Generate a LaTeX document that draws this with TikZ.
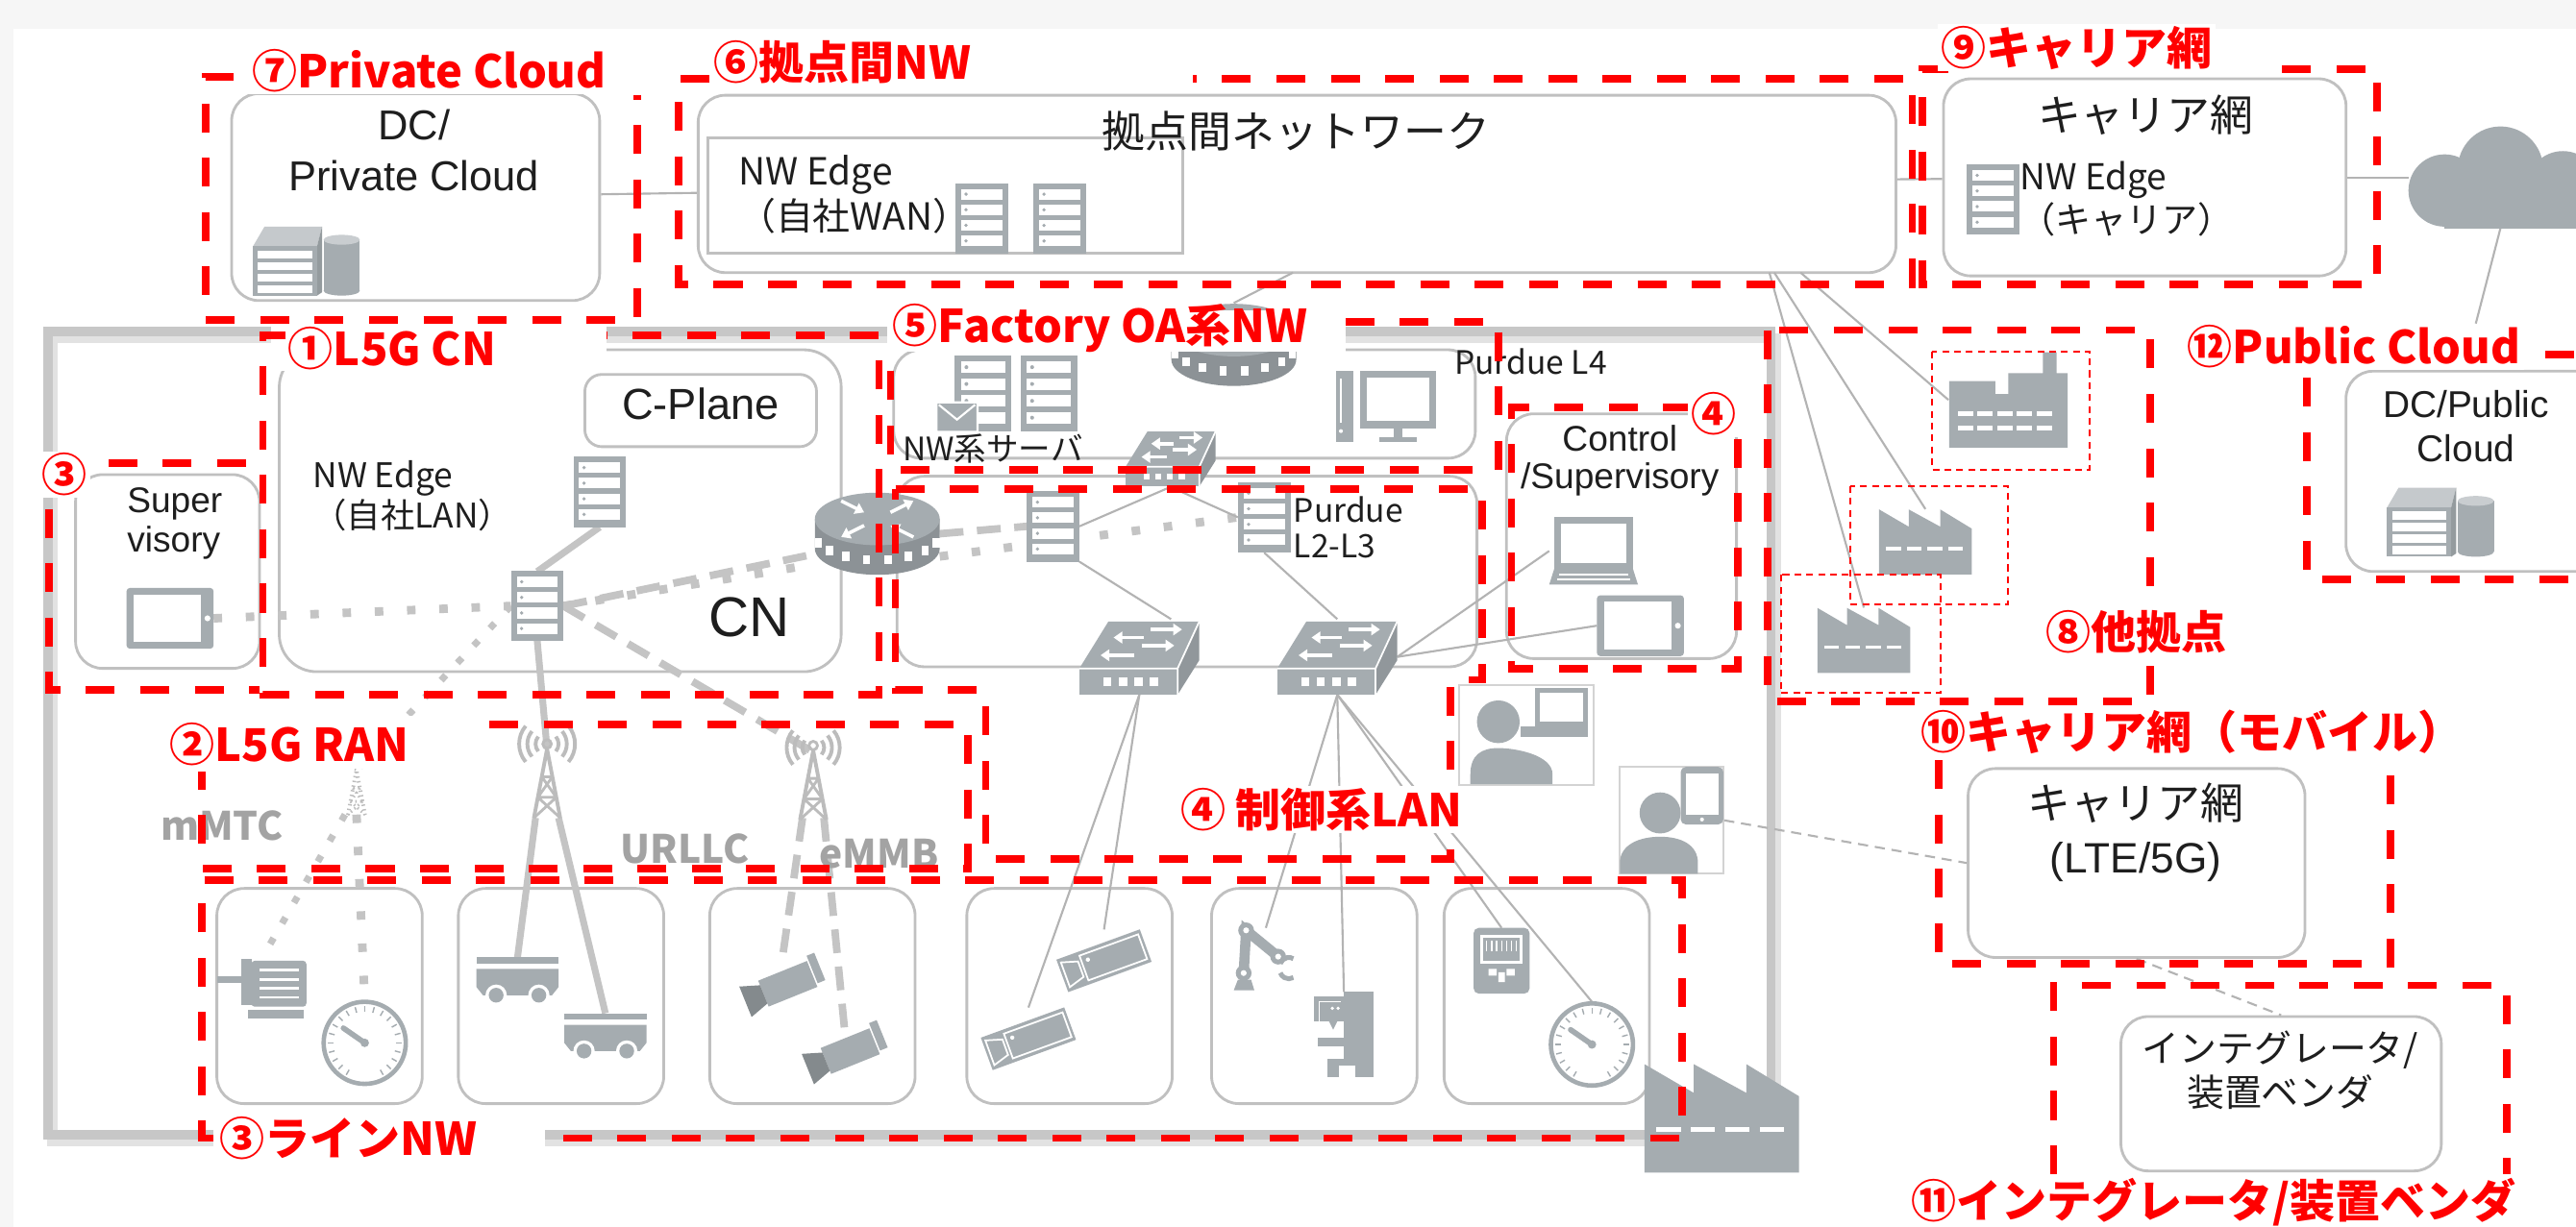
\documentclass[tikz,border=0pt]{standalone}
\usepackage{fontspec}
\setmainfont{Noto Sans CJK JP}
\newfontfamily\latinfont{Liberation Sans}
\usetikzlibrary{arrows.meta}

\definecolor{zonered}{HTML}{FF0000}
\definecolor{icongray}{HTML}{A5ACB0}
\definecolor{boxgray}{HTML}{C0C0C0}
\definecolor{linkgray}{HTML}{B3B3B3}
\definecolor{fatgray}{HTML}{C4C4C4}
\definecolor{antgray}{HTML}{BCBCBC}
\definecolor{framegray}{HTML}{C7C7C7}
\definecolor{shadowgray}{HTML}{E2E2E2}
\definecolor{pagegray}{HTML}{F6F6F6}
\definecolor{inkblack}{HTML}{1E1E1E}
\definecolor{ranlabel}{HTML}{A3A3A3}

\tikzset{
  gbox/.style={draw=boxgray, line width=0.8pt, fill=white, rounded corners=8pt, inner sep=0pt},
  edgebox/.style={draw=boxgray, line width=0.8pt, inner sep=0pt},
  personbox/.style={draw=boxgray!70, line width=0.5pt, fill=white, inner sep=0pt},
  ic/.style 2 args={inner sep=0pt, outer sep=0pt, minimum width=#1, minimum height=#2},
  link/.style={draw=linkgray, line width=0.6pt},
  dashlink/.style={link, dash pattern=on 3pt off 2pt},
  fatline/.style={draw=fatgray, line width=2pt},
  fatdash/.style={fatline, line width=2.2pt, dash pattern=on 7pt off 4pt},
  fatdot/.style={fatline, line width=2.5pt, dash pattern=on 2.5pt off 7pt},
  fatdiamond/.style={fatline, line width=2pt, dash pattern=on 2pt off 5pt},
  zone/.style={draw=zonered, line width=2.2pt, dash pattern=on 8.5pt off 7.5pt},
  facbox/.style={draw=zonered, line width=0.6pt, dash pattern=on 2pt off 1.5pt},
  zonelbl/.style={text=zonered, font=\bfseries\fontsize{13.3}{16}\selectfont, fill=white, inner xsep=1pt, inner ysep=0.5pt, anchor=west},
  txt/.style={text=inkblack, inner sep=0pt},
  ran/.style={text=ranlabel, font=\bfseries\fontsize{11.5}{13}\selectfont, inner sep=0pt},
  whitearrow/.style={white, line width=1pt, -{Triangle[length=2.6pt,width=3.4pt]}},
  % icons, drawn in picture units (y grows downwards)
  server/.pic={
    \fill[icongray] (-16,-21.5) rectangle (16,21.5);
    \foreach \k in {0,...,3}{
      \fill[white] (-12.5,{-18+9.5*\k}) rectangle (12.5,{-11.5+9.5*\k});
      \fill[icongray] (-9.5,{-14.75+9.5*\k}) circle (1.1);
    }
  },
  dbserver/.pic={
    \fill[icongray!65] (-32,-12) -- (-25,-24) -- (10,-24) -- (7,-12) -- cycle;
    \fill[icongray!90!black] (7,-12) -- (10,-24) -- (10,16) -- (7,18) -- cycle;
    \fill[icongray] (-32,-12) rectangle (7,18);
    \foreach \k in {0,...,3}
      \fill[white] (-29,{-9.5+7*\k}) rectangle (4,{-4.5+7*\k});
    \fill[icongray] (11,-16) rectangle (33,15);
    \fill[icongray] (22,15) ellipse (11 and 3);
    \fill[icongray!60] (22,-16) ellipse (11 and 3);
  },
  cloud/.pic={
    \fill[icongray] (-34,8) circle (22);
    \fill[icongray] (0,-5) circle (26);
    \fill[icongray] (38,6) circle (22);
    \fill[icongray] (-34,8) rectangle (50,31);
  },
  router/.pic={
    \fill[icongray!85!black] (-38,-9) -- (-38,9) arc (180:0:38 and 16) -- (38,-9) -- cycle;
    \fill[icongray] (0,-9) ellipse (38 and 16);
    \foreach \a in {160,140,...,20}
      \fill[white] ({38*cos(\a)-2.2},{16*sin(\a)-2.75}) rectangle +(4.4,5.5);
    \draw[whitearrow] (-22,-20) -- (-8,-13);
    \draw[whitearrow] (22,2) -- (8,-5);
    \draw[whitearrow] (8,-13) -- (22,-20);
    \draw[whitearrow] (-8,-5) -- (-22,2);
  },
  switch/.pic={
    \fill[icongray] (-36.5,7) -- (-18.8,-21.6) -- (36.5,-21.6) -- (23.3,7) -- cycle;
    \fill[icongray] (-36.5,7) rectangle (23.3,23);
    \fill[icongray!88!black] (23.3,7) -- (36.5,-21.6) -- (36.5,2) -- (23.3,23) -- cycle;
    \draw[white, line width=0.5pt] (-36.5,7) -- (23.3,7) -- (36.5,-21.6) (23.3,7) -- (23.3,23);
    \foreach \i in {0,...,3}
      \fill[white] ({-22+9.5*\i},12.5) rectangle +(5,5);
    \draw[whitearrow] (7,-16.7) -- (26,-16.7);
    \draw[whitearrow] (2.8,-11.8) -- (-15.7,-11.8);
    \draw[whitearrow] (1.8,-6.9) -- (21.3,-6.9);
    \draw[whitearrow] (-3.1,-1) -- (-23.6,-1);
  },
  pc/.pic={
    \fill[icongray] (-30.5,-21.5) rectangle (-19.5,21.5);
    \fill[white] (-28,-17) rectangle (-26.5,10);
    \fill[white] (-27.3,15) circle (1.2);
    \fill[icongray] (-15.5,-21.5) rectangle (30.5,13.5);
    \fill[white] (-11.5,-17.5) rectangle (26.5,8.5);
    \fill[icongray] (5,13.5) rectangle (10,18.5);
    \fill[icongray] (-4,18.5) rectangle (19,21.5);
  },
  laptop/.pic={
    \fill[icongray] (-24,-20.5) rectangle (24,11);
    \fill[white] (-20,-16.5) rectangle (20,7.5);
    \fill[icongray] (-24,11) -- (24,11) -- (27,20.5) -- (-27,20.5) -- cycle;
    \draw[white, line width=0.5pt] (-21,14.5) -- (21,14.5) (-22,17.5) -- (22,17.5);
  },
  tablet/.pic={
    \fill[icongray, rounded corners=1pt] (-26.5,-18.5) rectangle (26.5,18.5);
    \fill[white] (-22,-14.5) rectangle (19,14.5);
    \fill[white] (22.8,0) circle (1.8);
  },
  mail/.pic={
    \fill[icongray] (-12.5,-9) rectangle (12.5,9);
    \draw[white, line width=0.6pt] (-12.5,-9) rectangle (12.5,9) (-11,-7.5) -- (0,1.5) -- (11,-7.5);
  },
  personlap/.pic={
    \fill[icongray] (5.5,-28.7) rectangle (37.4,-5.2);
    \fill[white] (8.5,-25.7) rectangle (34.4,-8.2);
    \fill[icongray] (-3.3,-5.2) rectangle (37.4,1.5);
    \fill[icongray] (-17,-8) circle (13);
    \fill[icongray] (-34,30) -- (-34,24) .. controls (-34,12) and (-27,8) .. (-17,8)
      .. controls (-7,8) and (16,12) .. (16,24) -- (16,30) -- cycle;
  },
  personphone/.pic={
    \fill[icongray, rounded corners=1.5pt] (5.5,-32.5) rectangle (31.5,2.5);
    \fill[white] (8.5,-28.5) rectangle (28.5,-3.5);
    \fill[white] (18.5,-0.5) circle (1.2);
    \fill[icongray] (-7,-4.5) circle (12.5);
    \fill[icongray] (-31.5,32.5) -- (-31.5,26) .. controls (-31.5,15) and (-20,10) .. (-7,10)
      .. controls (6,10) and (16,15) .. (16,26) -- (16,32.5) -- cycle;
  },
  facsaw/.pic={
    \fill[icongray] (-47,33) -- (-47,-33) -- (-17,-15.5) -- (-17,-33) -- (15,-15.5)
      -- (15,-33) -- (47,-13.5) -- (47,33) -- cycle;
    \foreach \x in {-40,-19,2,23}
      \fill[white] (\x,5) rectangle +(15,3.5);
  },
  facchim/.pic={
    \fill[icongray] (-36,29) -- (-36,-11.5) -- (-8,-11.5) -- (-8,-3.6) -- (0,-3.6)
      -- (0,-16.3) -- (21,-16.3) -- (21,-29) -- (29.4,-29) -- (29.4,-16.3)
      -- (36,-16.3) -- (36,29) -- cycle;
    \foreach \y in {7,15.4}
      \foreach \x in {-31,-19,-7,5,17}
        \fill[white] (\x,\y) rectangle +(9.5,3);
  },
  tower/.pic={
    \draw[line width=1.1pt, line join=round] (-8,21) -- (0,-21) -- (8,21);
    \draw[line width=0.8pt] (-5.6,8.5) -- (5.6,8.5) (-3.2,-4) -- (3.2,-4)
      (-3.2,-4) -- (5.6,8.5) (3.2,-4) -- (-5.6,8.5)
      (-5.6,8.5) -- (8,21) (5.6,8.5) -- (-8,21);
    \draw[line width=0.8pt] (0,-24) circle (2.6);
  },
  antenna/.pic={
    \pic {tower};
    \foreach \r in {7,12,17}{
      \draw[line width=1.1pt] (0,-24) ++(-40:\r) arc (-40:40:\r);
      \draw[line width=1.1pt] (0,-24) ++(140:\r) arc (140:220:\r);
    }
  },
  motor/.pic={
    \fill[icongray] (-27.5,-6.5) rectangle (-12.5,-2.3);
    \fill[icongray] (-13,-17) rectangle (-7,11);
    \fill[icongray, rounded corners=1pt] (-7,-16) rectangle (26.5,12);
    \foreach \y in {-11,-5.5,0,5.5}
      \fill[white] (-2,\y) rectangle (22,{\y+1.6});
    \fill[icongray] (-9,14) rectangle (25,19);
  },
  gauge/.pic={
    \draw[icongray, line width=1.3pt] (0,0) circle (25);
    \foreach \a in {120,135,...,420}
      \draw[icongray, line width=0.4pt] (\a:19) -- (\a:22.5);
    \draw[icongray, line width=1.6pt, line cap=round] (0,0) -- (-13,-9);
    \fill[icongray] (0,0) circle (2.6);
  },
  agv/.pic={
    \fill[icongray] (-25,-15) rectangle (25,-11);
    \fill[icongray] (-25,-8) -- (25,-8) -- (25,3) -- (21,8) -- (-21,8) -- (-25,3) -- cycle;
    \foreach \x in {-13,13}{
      \fill[white] (\x,8) circle (6.5);
      \fill[icongray] (\x,8) circle (4.5);
    }
  },
  cctv/.pic={
    \fill[icongray] (-12,-9) rectangle (20,8);
    \fill[icongray!80!black] (-12,-6) -- (-24,-10) -- (-24,10) -- (-12,6) -- cycle;
    \fill[icongray] (21,-12) rectangle (26,6);
  },
  vcam/.pic={
    \fill[icongray] (-27,-10.5) rectangle (27,10.5);
    \draw[white, line width=0.5pt] (-13,-8) rectangle (25,8);
    \draw[white, line width=0.5pt] (-25,-8) -- (-15,-5) -- (-15,5) -- (-25,8) -- cycle;
    \fill[white] (-9,-4) circle (1.3);
  },
  robot/.pic={
    \fill[icongray] (-19.5,18.5) -- (-17,12) -- (-9,12) -- (-7,18.5) -- cycle;
    \draw[icongray, line width=3pt] (-13.5,8) -- (-12,-18) -- (7.5,-2);
    \foreach \p in {(-13.5,8),(-12,-18),(7.5,-2)}{
      \fill[icongray] \p circle (4.8);
      \fill[white] \p circle (1.8);
    }
    \draw[icongray, line width=1.4pt] (14,4) ++(200:5.5) arc (200:300:5.5);
    \draw[icongray, line width=1.4pt] (14,6) ++(60:5.5) arc (60:160:5.5);
  },
  press/.pic={
    \fill[icongray] (0,-26) rectangle (18,26);
    \fill[icongray] (-18,-23) rectangle (0,-8);
    \draw[white, line width=0.5pt] (-15,-8) -- (-15,-20) -- (-2,-20);
    \fill[white] (-7,-16) circle (1.1) (-3.5,-16) circle (1.1);
    \fill[icongray] (-9,-8) -- (-4,-8) -- (-6.5,-3) -- cycle;
    \fill[icongray] (-16,2) rectangle (0,7);
    \fill[icongray] (-10,15) rectangle (18,26);
    \fill[white] (-3,19) rectangle (7,26);
  },
  hmi/.pic={
    \fill[icongray, rounded corners=1.5pt] (-17,-20) rectangle (17,20);
    \fill[white] (-13,-16) rectangle (13,2);
    \fill[icongray] (-11,-14) rectangle (11,0);
    \foreach \x in {-9,-6,...,9}
      \draw[white, line width=0.35pt] (\x,-12) -- (\x,-6);
    \fill[white] (-8,5) rectangle (-3,9) (3,5) rectangle (8,9) (-2,7) rectangle (2,13);
  },
}

\begin{document}
\begin{tikzpicture}[x=0.017cm, y=-0.017cm]
\useasboundingbox (0,0) rectangle (1568,747);
\clip (0,0) rectangle (1568,747);

% page
\fill[pagegray] (0,0) rectangle (1568,747);
\fill[white] (8,17.5) rectangle (1568,747);

% factory frame
\draw[shadowgray, line width=3pt] (32,206) rectangle (1081,695);
\draw[framegray, line width=2.8pt] (29,202) rectangle (1078,691);

% gray boxes
\node[gbox, minimum width=3.808cm, minimum height=2.142cm] (pcloud) at (253,120) {};
\node[gbox, minimum width=12.393cm, minimum height=1.836cm] (wan) at (789.5,112) {};
\node[edgebox, minimum width=4.913cm, minimum height=1.19cm] (wanedge) at (575.5,119) {};
\node[gbox, minimum width=4.165cm, minimum height=2.04cm] (carrier) at (1305.5,108) {};
\node[gbox, minimum width=2.754cm, minimum height=2.074cm] (pubcloud) at (1509,287) {};
\node[gbox, minimum width=1.904cm, minimum height=2.006cm] (super) at (102,348) {};
\node[gbox, rounded corners=11pt, minimum width=5.814cm, minimum height=3.332cm] (cn) at (341,311) {};
\node[gbox, rounded corners=5pt, minimum width=2.397cm, minimum height=0.748cm] (cplane) at (426.5,250) {};
\node[gbox, minimum width=6.018cm, minimum height=1.122cm] (oa) at (721,246) {};
\node[gbox, minimum width=6.001cm, minimum height=1.972cm] (lan) at (722.5,348) {};
\node[gbox, minimum width=2.38cm, minimum height=2.533cm] (ctrl) at (987,326.5) {};
\foreach \n/\x in {1/194.5,2/341.5,3/494.5,4/651,5/800,6/941.5}
  \node[gbox, minimum width=2.125cm, minimum height=2.227cm] (line\n) at (\x,606.5) {};
\node[gbox, minimum width=3.485cm, minimum height=1.955cm] (mobile) at (1300.5,525.5) {};
\node[gbox, minimum width=3.315cm, minimum height=1.598cm] (integ) at (1388.5,666) {};
\node[personbox, minimum width=1.394cm, minimum height=1.037cm] (op1) at (929,447.5) {};
\node[personbox, minimum width=1.071cm, minimum height=1.105cm] (op2) at (1017.5,499.5) {};

% icon places
\node[ic={1.904cm}{1.054cm}] (cloudn) at (1522,108) {};
\node[ic={0.544cm}{0.714cm}] (upf) at (327,369) {};
\node[ic={0.544cm}{0.731cm}] (cpsrv) at (365,299.5) {};
\node[ic={0.544cm}{0.731cm}] (srvL) at (641,320.5) {};
\node[ic={0.544cm}{0.731cm}] (srvR) at (769.5,315) {};
\node[ic={0.901cm}{0.629cm}] (tabS) at (103.5,376.5) {};
\node[ic={1.292cm}{0.867cm}] (rtr1) at (534,325) {};
\node[ic={1.292cm}{0.867cm}] (rtr2) at (751,210) {};
\node[ic={0.935cm}{0.595cm}] (tsw) at (712.5,279) {};
\node[ic={1.241cm}{0.782cm}] (swA) at (693.5,400) {};
\node[ic={1.241cm}{0.782cm}] (swB) at (814,400) {};
\node[ic={0.918cm}{0.697cm}] (lap) at (970,335.5) {};
\node[ic={0.901cm}{0.629cm}] (tabC) at (998.5,381) {};
\node[ic={0.238cm}{0.459cm}] (ant1) at (217,482.5) {};
\node[ic={0.238cm}{0.714cm}] (ant2) at (333,477) {};
\node[ic={0.221cm}{0.68cm}] (ant3) at (495,478) {};
\node[ic={0.935cm}{0.629cm}] (motor) at (160,601) {};
\node[ic={0.884cm}{0.884cm}] (gauge1) at (222,635) {};
\node[ic={0.85cm}{0.51cm}] (agv1) at (315,598) {};
\node[ic={0.85cm}{0.51cm}] (agv2) at (368.5,632) {};
\node[ic={0.867cm}{0.544cm}] (cam1) at (476,601) {};
\node[ic={0.867cm}{0.544cm}] (cam2) at (514,642) {};
\node[ic={0.986cm}{0.646cm}] (cam4a) at (672,585) {};
\node[ic={0.986cm}{0.646cm}] (cam4b) at (626,632.5) {};
\node[ic={0.663cm}{0.663cm}] (robot) at (770.5,584.5) {};
\node[ic={0.612cm}{0.884cm}] (press) at (818,630) {};
\node[ic={0.578cm}{0.68cm}] (hmi) at (914,585) {};
\node[ic={0.884cm}{0.884cm}] (gauge6) at (969,636) {};
\node[ic={1.241cm}{0.969cm}] (fac1) at (1222.5,243.5) {};
\node[ic={0.952cm}{0.68cm}] (fac2) at (1172,330) {};
\node[ic={0.952cm}{0.68cm}] (fac3) at (1134.5,390) {};

\coordinate (wanf1) at (1096,166);
\coordinate (wanf2) at (1080,166);
\coordinate (wanf3) at (1077,166);
\coordinate (wanr) at (787,166);
\coordinate (pubtop) at (1507,197);

% links between sites
\draw[link] (pcloud) -- (wan);
\draw[link] (wan) -- (carrier);
\draw[link] (carrier) -- (cloudn);
\draw[link] (cloudn.south) -- (pubtop);
\draw[link] (wanf1) -- (fac1.west);
\draw[link] (wanf2) -- (fac2.north);
\draw[link] (wanf3) -- (fac3.north);
\draw[link] (wanr) -- (rtr2.north);

% local 5G
\draw[fatline] (cpsrv.south) -- (upf.north);
\draw[fatline] (upf.south) -- (ant2.north);
\draw[fatline] (ant2.south west) -- (agv1.north);
\draw[fatline] (ant2.south east) -- (agv2.north);
\draw[fatdash] (upf.east) -- (ant3.north);
\draw[fatdash] (ant3.south west) -- (cam1.north);
\draw[fatdash] (ant3.south east) -- (cam2.north);
\draw[fatdiamond] (upf.west) -- (ant1.north);
\draw[fatdiamond] (ant1.south west) -- (motor.north);
\draw[fatdot] (ant1.south) -- (gauge1.north);
\draw[fatdot] (tabS.east) -- (upf.west);
\draw[fatdash] (upf.east) -- (rtr1.198);
\draw[fatdot] (upf.east) -- (rtr1.206);
\draw[fatdash] (rtr1.east) -- (srvL.west);
\draw[fatdot] (rtr1.340) -- (srvR.west);

% control LAN
\draw[link] (tsw.south) -- (srvL.east);
\draw[link] (tsw.south) -- (srvR.west);
\draw[link] (srvL.south east) -- (swA.50);
\draw[link] (srvR.south) -- (swB.north);
\draw[link] (swB.east) -- (lap.west);
\draw[link] (swB.east) -- (tabC.west);
\draw[link] (swA.south) -- (cam4a.north);
\draw[link] (swA.south) -- (cam4b.north);
\foreach \d in {robot,press,hmi,gauge6}
  \draw[link] (swB.south) -- (\d.north);
\draw[dashlink] (op2.east) -- (mobile.west);
\draw[dashlink] (mobile.south) -- (integ.north);

% icons
\pic at (186,162) {dbserver};
\pic at (597.5,133) {server};
\pic at (645,133) {server};
\pic at (1213,121.5) {server};
\pic at (cloudn) {cloud};
\pic at (1485,321) {dbserver};
\pic at (tabS) {tablet};
\pic at (cpsrv) {server};
\pic at (upf) {server};
\pic at (rtr1) {router};
\pic at (rtr2) {router};
\pic[scale=1.08] at (598.5,239.5) {server};
\pic[scale=1.08] at (638.5,239.5) {server};
\pic at (582.5,254) {mail};
\pic at (843.5,247.5) {pc};
\pic[scale=0.75] at (tsw) {switch};
\pic at (srvL) {server};
\pic at (srvR) {server};
\pic at (swA) {switch};
\pic at (swB) {switch};
\pic at (lap) {laptop};
\pic at (tabC) {tablet};
\pic[color=antgray, densely dotted, scale=0.65] at (ant1) {tower};
\pic[color=antgray] at (ant2) {antenna};
\pic[color=antgray, scale=0.95] at (ant3) {antenna};
\pic at (motor) {motor};
\pic at (gauge1) {gauge};
\pic at (agv1) {agv};
\pic at (agv2) {agv};
\pic[rotate=22] at (cam1) {cctv};
\pic[rotate=22] at (cam2) {cctv};
\pic[rotate=20] at (cam4a) {vcam};
\pic[rotate=20] at (cam4b) {vcam};
\pic at (robot) {robot};
\pic at (press) {press};
\pic at (hmi) {hmi};
\pic at (gauge6) {gauge};
\pic at (op1) {personlap};
\pic at (op2) {personphone};
\pic at (fac1) {facchim};
\pic[scale=0.6] at (fac2) {facsaw};
\pic[scale=0.6] at (fac3) {facsaw};
\pic at (1048,681) {facsaw};

% texts
\node[txt, font=\latinfont\fontsize{12.3}{15}\selectfont, align=center] (pctext) at (252,91.5) {DC/\\Private Cloud};
\node[txt, font=\fontsize{12.7}{15}\selectfont] (wantitle) at (789,80) {拠点間ネットワーク};
\node[txt, font=\fontsize{11}{12}\selectfont, align=left, anchor=west] (wanedgetext) at (449,118.5) {NW Edge\\（自社WAN）};
\node[txt, font=\fontsize{12.7}{15}\selectfont] (cartitle) at (1306,70) {キャリア網};
\node[txt, font=\fontsize{10.5}{11.6}\selectfont, align=left, anchor=west] (caredge) at (1229,121) {NW Edge\\（キャリア）};
\node[txt, font=\latinfont\fontsize{11}{13}\selectfont, align=center] (pubtext) at (1501,259.5) {DC/Public\\Cloud};
\node[txt, font=\latinfont\fontsize{10.5}{11.6}\selectfont, align=left, anchor=west] (supertext) at (77,319) {Super\\visory};
\node[txt, font=\fontsize{10}{10}\selectfont, align=left, anchor=west] (cnedge) at (190,302) {NW Edge\\（自社LAN）};
\node[txt, font=\latinfont\fontsize{12.8}{15}\selectfont] (cptext) at (426.5,246) {C-Plane};
\node[txt, font=\latinfont\fontsize{16.5}{18}\selectfont] (cntext) at (456,376) {CN};
\node[txt, font=\fontsize{9.5}{11}\selectfont, anchor=west] (nwsrv) at (549,273) {NW系サーバ};
\node[txt, font=\fontsize{9.5}{11}\selectfont, anchor=west] (l4text) at (885,220) {Purdue L4};
\node[txt, font=\fontsize{9.5}{10.6}\selectfont, align=left, anchor=west] (l23text) at (787,321) {Purdue\\L2-L3};
\node[txt, font=\latinfont\fontsize{10.5}{11.1}\selectfont, align=center] (ctrltext) at (986,280.5) {Control\\/Supervisory};
\node[ran] (mmtc) at (135,503) {mMTC};
\node[ran] (urllc) at (417,517) {URLLC};
\node[ran] (embb) at (535,520) {eMMB};
\node[txt, font=\fontsize{12.7}{15}\selectfont] (mobtitle) at (1300,489) {キャリア網};
\node[txt, font=\latinfont\fontsize{12.5}{15}\selectfont] (mobsub) at (1300,525) {(LTE/5G)};
\node[txt, font=\fontsize{11}{13}\selectfont, align=center] (integtext) at (1388,651.5) {インテグレータ/\\装置ベンダ};

% label backings
\fill[white] (165,198) rectangle (369,226);
\fill[white] (540,189) rectangle (819,214);
\fill[white] (100,436) rectangle (298,468);
\fill[white] (130,681) rectangle (332,706);

% zones
\draw[zone] (142,47) -- (125,47) -- (125,195) -- (388,195) -- (388,58);
\draw[zone] (432,48) -- (413,48) -- (413,173) -- (1164,173) -- (1164,48) -- (726,48);
\draw[zone] (1186,42) -- (1170,42) -- (1170,173) -- (1447,173) -- (1447,42) -- (1389,42);
\draw[zone] (1549,216) -- (1590,216) (1404,230) -- (1404,353) -- (1590,353);
\draw[zone] (1076,201) rectangle (1309,427);
\draw[zone] (174,204) -- (160,204) -- (160,423) -- (535,423) -- (535,204) -- (369,204);
\draw[zone] (66,282) -- (158,282) (30,310) -- (30,420) -- (158,420);
\draw[zone] (819,196) -- (912,196) -- (912,286) -- (542,286) -- (542,214);
\draw[zone] (1030,248) -- (920,248) -- (920,407) -- (1058,407) -- (1058,267);
\draw[zone] (545,298) -- (902,298) -- (902,414) -- (883,414) -- (883,523) -- (600,523)
  -- (600,420) -- (545,420) -- cycle;
\draw[zone] (298,441) -- (589,441) -- (589,529) -- (123,529) -- (123,470);
\draw[zone] (130,693) -- (123,693) -- (123,536) -- (1024,536) -- (1024,693) -- (332,693);
\draw[zone] (1180,463) -- (1180,587) -- (1455,587) -- (1455,463);
\draw[zone] (1250,715) -- (1250,600) -- (1526,600) -- (1526,715);
\draw[facbox] (1176,214) rectangle (1272,286);
\draw[facbox] (1126,296) rectangle (1222,368);
\draw[facbox] (1084,350) rectangle (1181,422);

% zone labels
\node[zonelbl] (z7) at (151,43) {⑦Private Cloud};
\node[zonelbl] (z6) at (432,38) {⑥拠点間NW};
\node[zonelbl] (z9) at (1179,29) {⑨キャリア網};
\node[zonelbl, fill=none] (z1) at (173,212) {①L5G CN};
\node[zonelbl, fill=none] (z5) at (541,200) {⑤Factory OA系NW};
\node[zonelbl, anchor=center] (z3a) at (39,289) {③};
\node[zonelbl, anchor=center] (z4a) at (1043,252) {④};
\node[zonelbl, fill=none] (z2) at (101,453) {②L5G RAN};
\node[zonelbl, fill=none] (z3) at (131,693) {③ラインNW};
\node[zonelbl] (z4) at (716,493) {④ 制御系LAN};
\node[zonelbl] (z8) at (1243,385) {⑧他拠点};
\node[zonelbl] (z10) at (1167,446) {⑩キャリア網（モバイル）};
\node[zonelbl] (z11) at (1161,732) {⑪インテグレータ/装置ベンダ};
\node[zonelbl] (z12) at (1329,211) {⑫Public Cloud};

\end{tikzpicture}
\end{document}
